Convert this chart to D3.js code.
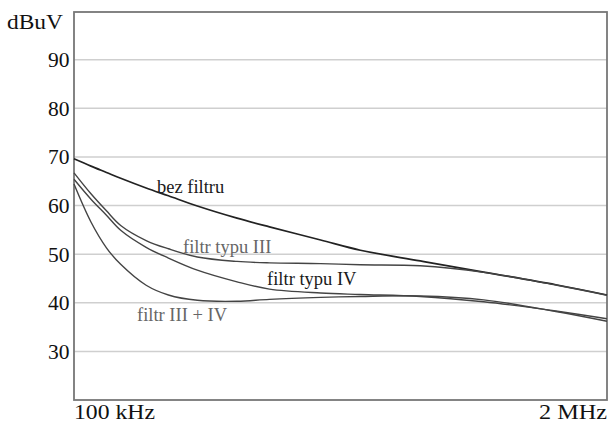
<!DOCTYPE html>
<html>
<head>
<meta charset="utf-8">
<script src="https://cdn.jsdelivr.net/npm/d3@7/dist/d3.min.js"></script>
<style>
  html, body { margin: 0; padding: 0; background: #fff; }
  svg { display: block; }
  text { font-family: "Liberation Serif", Tinos, "Times New Roman", "DejaVu Serif", serif; }
</style>
</head>
<body>
<script>
// Frequencies in MHz (log axis from 100 kHz to 2 MHz)
const freqs = [0.1, 0.11, 0.12, 0.13, 0.15, 0.17, 0.2, 0.25, 0.3, 0.4, 0.5, 0.7, 1.0, 1.5, 2.0];
// Levels in dBuV
const bezFiltru   = [69.6, 68.1, 66.8, 65.6, 63.6, 62.0, 59.9, 57.4, 55.6, 52.9, 50.8, 48.6, 46.3, 43.7, 41.6];
const filtrIII    = [66.7, 62.4, 58.9, 55.9, 52.8, 51.1, 49.4, 48.5, 48.2, 48.05, 47.8, 47.6, 46.25, 43.65, 41.55];
const filtrIV     = [65.4, 61.3, 58.0, 54.9, 51.4, 49.2, 46.7, 44.3, 42.8, 42.0, 41.7, 41.3, 40.2, 38.3, 36.7];
const filtrIIIIV  = [64.4, 56.6, 51.3, 47.9, 43.6, 41.6, 40.5, 40.3, 40.7, 41.1, 41.3, 41.4, 40.6, 38.2, 36.2];
const yTicks = [30, 40, 50, 60, 70, 80, 90];
const xTickLabels = [{f: 0.1, t: "100 kHz"}, {f: 2.0, t: "2 MHz"}];
const seriesNames = ["bez filtru", "filtr typu III", "filtr typu IV", "filtr III + IV"];
// label anchors (freq MHz, dBuV)
const labelPos = [[0.1594, 62.6], [0.1845, 50.2], [0.296, 43.65], [0.1425, 36.3]];
const labelColors = ["#1a1a1a", "#666", "#1a1a1a", "#666"];

const W = 611, H = 423;
const svg = d3.select("body").append("svg").attr("width", W).attr("height", H);

const x = d3.scaleLog().domain([0.1, 2.0]).range([74, 607]);
const y = d3.scaleLinear().domain([20, 100]).range([400, 11]);

// gridlines
svg.append("g").selectAll("line").data(yTicks).join("line")
  .attr("x1", x(0.1)).attr("x2", x(2.0))
  .attr("y1", d => y(d)).attr("y2", d => y(d))
  .attr("stroke", "#cfcfcf").attr("stroke-width", 1.5);

// frame
svg.append("rect")
  .attr("x", x(0.1)).attr("y", 12)
  .attr("width", x(2.0) - x(0.1)).attr("height", y(20) - 12)
  .attr("fill", "none").attr("stroke", "#777").attr("stroke-width", 1.8);

// y tick labels
svg.append("g").selectAll("text").data(yTicks).join("text")
  .attr("x", 69.5).attr("y", d => y(d) + 7.5)
  .attr("text-anchor", "end")
  .attr("font-size", 21.5)
  .attr("fill", "#111")
  .text(d => d);

svg.append("text").attr("x", 7).attr("y", 29)
  .attr("font-size", 21.5).attr("fill", "#111")
  .attr("textLength", 56).attr("lengthAdjust", "spacingAndGlyphs")
  .text("dBuV");

// x labels
svg.append("text")
  .attr("x", x(xTickLabels[0].f)).attr("y", 419)
  .attr("font-size", 21.5).attr("fill", "#111")
  .attr("textLength", 81).attr("lengthAdjust", "spacingAndGlyphs")
  .text(xTickLabels[0].t);
svg.append("text")
  .attr("x", x(xTickLabels[1].f) - 68).attr("y", 419)
  .attr("font-size", 21.5).attr("fill", "#111")
  .attr("textLength", 68).attr("lengthAdjust", "spacingAndGlyphs")
  .text(xTickLabels[1].t);

// curves
const allSeries = [bezFiltru, filtrIII, filtrIV, filtrIIIIV];
const line = d3.line()
  .x(d => x(d[0])).y(d => y(d[1]))
  .curve(d3.curveCatmullRom.alpha(0.5));

svg.append("g").selectAll("path").data(allSeries).join("path")
  .attr("d", s => line(freqs.map((f, i) => [f, s[i]])))
  .attr("fill", "none")
  .attr("stroke", (s, i) => i === 0 ? "#222" : "#444")
  .attr("stroke-width", (s, i) => i === 0 ? 1.7 : 1.4);

// labels
svg.append("g").selectAll("text").data(seriesNames).join("text")
  .attr("x", (d, i) => x(labelPos[i][0]))
  .attr("y", (d, i) => y(labelPos[i][1]))
  .attr("font-size", 18.5)
  .attr("fill", (d, i) => labelColors[i])
  .text(d => d);
</script>
</body>
</html>
